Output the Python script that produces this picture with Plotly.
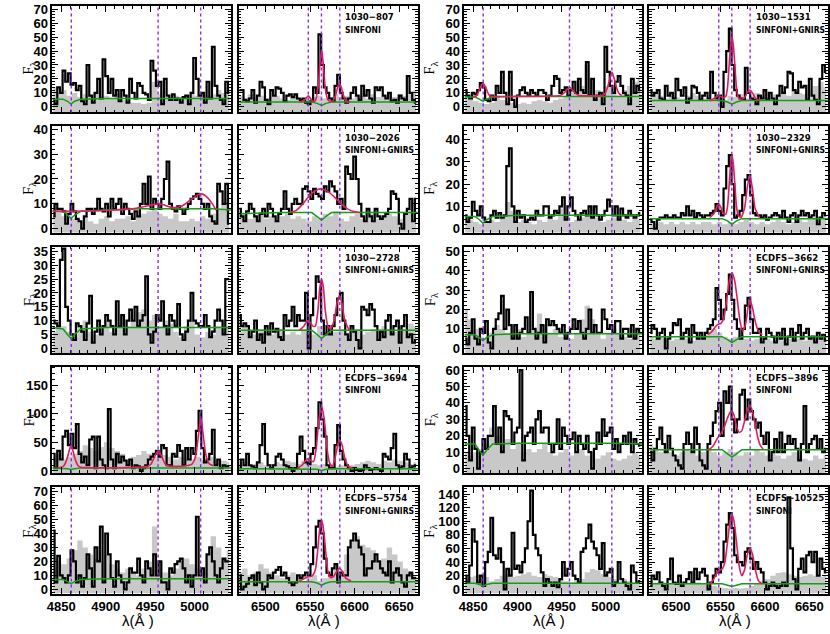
import plotly.graph_objects as go

# ---------------- wavelength grids / reference lines ----------------
BLUE_START, RED_START = 4841, 6471      # first bin centre (Angstrom)
SPEC_BIN, NOISE_BIN = 3, 6              # bin widths (Angstrom)
BLUE_RANGE = [4840, 5041]
RED_RANGE = [6470, 6671]
BLUE_LINES = [4861.3, 4958.9, 5006.8]   # Hbeta, [OIII]4959, [OIII]5007
RED_LINES = [6548.1, 6562.8, 6583.4]    # [NII]6548, Halpha, [NII]6583
BLUE_TICK0, RED_TICK0 = 4850, 6500
CONT_BLUE_WAVE = [4840, 4852, 4857, 4861, 4865, 4872, 4900, 4940, 4980, 5020, 5041]
CONT_RED_WAVE = [6470, 6520, 6552, 6558, 6563, 6568, 6574, 6620, 6671]

# ---------------- 1030-807 ----------------
F_807_B = [5,2,14,10,26,18,24,16,17,12,15,4,2,30,8,3,10,20,6,34,22,10,20,8,12,4,12,8,3,20,10,6,17,15,10,9,5,33,26,15,18,2,20,8,5,9,5,6,3,7,8,2,10,35,20,8,10,3,18,6,43,15,8,5,2,18,10]
N_807_B = [14,10,12,8,10,7,9,8,10,7,8,6,9,5,4,3,3,2,3,18,9,7,6,8,6,8,9,8,10,8,9,12,10,12]
C_807_B = [5.5,5.5,4,2,4,5.5,6,6,6,6,6]
F_807_R = [12,12,5,4,6,12,3,8,18,14,5,2,12,8,14,13,10,4,8,9,7,9,6,5,6,3,2,4,14,10,52,30,14,10,6,4,15,23,10,6,3,6,10,14,8,5,15,8,12,6,3,14,12,14,8,6,10,4,5,3,8,6,5,22,10,5,3]
N_807_R = [8,6,9,7,8,6,7,8,6,5,7,6,5,6,7,8,6,7,9,7,8,6,7,8,6,9,7,8,10,7,9,8,10,12]
C_807_R = [3.5,3.5,3.5,2.5,1,2.5,3.5,3.5,3.5]
FITW_807_R = [6538,6543,6546,6548,6550,6553,6556,6559,6561,6563,6565,6567,6570,6573,6576,6579,6581,6583,6585,6587,6590,6595]
FITF_807_R = [3.5,4.5,6.5,8,6.5,4,4.5,14,30,41,30,14,5,4,4.5,9,14,17,14,9,4.5,3.5]

# ---------------- 1030-1531 ----------------
F_1531_B = [12,8,6,10,9,12,17,14,5,4,8,5,15,10,25,10,2,25,5,0,8,12,14,10,8,12,10,8,12,12,10,5,8,15,22,20,10,12,14,8,12,18,10,20,12,10,32,8,20,5,8,10,2,43,25,15,10,18,22,15,10,8,2,20,10,15,12]
N_1531_B = [8,6,4,3,2,3,8,5,4,3,2,3,2,4,5,4,3,5,6,8,12,10,15,30,20,12,10,15,10,8,12,15,18,20]
C_1531_B = [7,7,5.5,4,5.5,7,7.5,7.5,7.5,7.5,7.5]
FITW_1531_B = [4850,4853,4855,4858,4861,4864,4867,4869,4872,4900,4940,4948,4952,4955,4959,4963,4966,4970,4980,4995,4999,5002,5004,5007,5010,5012,5015,5018]
FITF_1531_B = [7,7.5,9.5,14,17,14,9.5,7.8,7.5,7.5,7.8,8.2,9.5,11.5,14,11.5,9.5,8.2,8,8,9.5,14,19,25,19,14,9.5,8]
F_1531_R = [12,8,10,12,6,5,15,8,10,6,20,12,8,14,3,6,15,14,10,5,8,10,6,25,10,6,8,0,25,40,56,30,12,8,6,5,28,10,6,5,2,8,6,12,5,10,6,2,8,15,10,14,25,24,12,10,18,14,15,5,20,8,5,2,20,30,25]
N_1531_R = [8,10,8,6,8,7,6,8,10,8,6,5,4,6,5,8,7,9,6,8,10,8,7,9,8,10,8,12,10,9,12,15,18,14]
C_1531_R = [4.5,4.5,4.5,3.5,2,3.5,4.5,4.5,4.5]
FITW_1531_R = [6538,6543,6546,6548,6550,6553,6556,6558,6560,6561.5,6563,6564.5,6566,6568,6570,6573,6577,6580,6583,6586,6589,6594]
FITF_1531_R = [4.5,6,7.5,8,7.5,6.5,7.5,14,32,44,51,44,32,14,7,5.5,6.5,10,12,10,6.5,4.5]

# ---------------- 1030-2026 ----------------
F_2026_B = [5,10,8,8,7,2,6,10,7,4,3,0,5,8,8,6,8,12,8,7,10,5,12,8,10,12,6,10,8,6,4,7,5,10,18,10,21,8,12,10,8,12,20,27,10,8,7,9,8,6,8,10,12,13,14,12,10,8,10,5,3,2,18,15,10,18,2]
N_2026_B = [10,7,5,6,4,3,5,3,2,4,5,3,4,4,5,3,5,6,7,8,6,5,4,6,3,3,4,3,5,4,6,8,10,12]
C_2026_B = [7,7,5.5,4,5.5,7,7.5,8,8,8,7.5]
FITW_2026_B = [4840,4860,4900,4930,4945,4955,4960,4965,4975,4985,4995,5003,5008,5013,5020,5024]
FITF_2026_B = [7,7,7.3,8,9,9.8,10,9.6,8.5,9,11.5,13.5,14,13,10,7.5]
F_2026_R = [8,5,3,7,10,8,5,3,6,8,5,10,8,5,3,6,8,15,8,6,10,12,10,10,16,17,15,12,16,14,13,12,17,15,19,17,15,10,12,8,25,22,20,29,20,10,5,3,8,5,3,8,5,4,5,6,8,15,14,12,2,0,6,8,12,3,12]
N_2026_R = [7,6,4,5,6,4,5,3,5,6,4,5,4,3,5,4,6,5,7,4,3,5,6,4,5,6,4,5,6,5,4,6,8,10]
C_2026_R = [6,6.5,6.5,5,3.5,5,6.5,6.5,6.5]
FITW_2026_R = [6528,6535,6542,6550,6557,6563,6570,6578,6585,6592,6600,6606]
FITF_2026_R = [6.5,7.5,10,13.5,15.5,16,15,12.5,10,8,6.8,6.5]

# ---------------- 1030-2329 ----------------
F_2329_B = [6,3,5,12,8,6,10,5,3,3,6,8,5,7,5,6,28,36,10,3,8,5,6,3,4,5,4,8,6,6,10,10,5,6,8,7,10,14,4,10,14,8,6,4,7,8,6,10,5,10,6,4,6,8,13,10,6,10,4,9,6,5,8,6,5,6,7]
N_2329_B = [6,4,3,2,3,4,3,5,12,8,3,4,3,2,4,3,5,4,9,6,3,4,5,6,10,5,3,4,5,6,4,3,5,4]
C_2329_B = [5.5,5.5,4,2.5,4,5.5,6,6,6,6,6]
F_2329_R = [4,3,0,4,5,5,6,5,5,6,5,5,7,6,10,6,8,5,7,6,5,6,6,7,8,11,8,6,18,28,33,20,5,6,8,15,22,24,15,7,6,6,5,6,4,5,6,7,6,5,8,5,3,6,7,3,6,8,6,7,5,6,8,2,5,7,6]
N_2329_R = [3,2,3,2,3,2,3,2,3,2,3,3,2,3,2,3,2,3,4,3,2,3,2,3,4,3,2,3,4,3,4,5,4,5]
C_2329_R = [4.5,4.5,4.5,3.5,2,3.5,4.5,4.5,4.5]
FITW_2329_R = [6538,6543,6546,6548,6550,6553,6556,6558,6560,6561.5,6563,6564.5,6566,6568,6570,6573,6577,6580,6583,6586,6589,6594]
FITF_2329_R = [5,7,10,11,10,7,6.5,10,21,29,33,29,21,10,6,5,9,18,24,18,9,5]

# ---------------- 1030-2728 ----------------
F_2728_B = [10,9,8,32,36,15,10,5,3,9,8,6,3,9,19,2,6,10,5,8,12,10,8,5,17,8,12,5,10,14,10,15,8,10,12,26,5,2,6,12,10,17,8,5,12,10,8,16,5,3,6,10,20,10,9,8,8,12,8,4,6,10,14,10,5,25,25]
N_2728_B = [6,10,8,6,4,8,10,6,5,8,10,6,8,12,8,10,13,14,10,12,8,10,9,6,4,8,10,5,4,6,5,8,10,8]
C_2728_B = [7.5,7,5,3.5,5,7,7.5,7.5,7.5,7.5,7.5]
F_2728_R = [12,8,9,8,4,6,10,3,5,2,8,5,9,6,7,4,3,12,8,10,15,8,12,10,10,20,0,12,18,26,24,10,5,8,5,8,12,18,20,10,5,3,8,6,3,0,15,14,12,16,14,8,3,6,4,10,12,5,8,10,2,8,12,4,5,2,3]
N_2728_R = [6,8,6,5,7,6,5,6,7,5,6,5,7,6,5,8,6,5,6,7,5,6,7,5,6,7,6,8,7,6,8,7,9,8]
C_2728_R = [6.5,6.5,6.5,5,3.5,5,6.5,6.5,6.5]
FITW_2728_R = [6538,6543,6546,6548,6550,6553,6556,6559,6561,6563,6565,6567,6570,6573,6577,6580,6583,6586,6589,6594]
FITF_2728_R = [6.5,8,9.5,10,9.5,8,8,14,22,25,22,14,8,7,10,16,19,16,10,6.5]

# ---------------- ECDFS-3662 ----------------
F_3662_B = [5,2,8,15,5,2,10,8,14,3,0,10,15,18,27,10,20,12,5,12,5,8,10,16,8,29,10,5,8,12,3,15,12,14,12,10,8,12,5,8,10,15,10,14,8,5,10,20,8,12,8,8,20,15,10,12,8,14,14,5,10,10,6,12,5,10,8]
N_3662_B = [20,15,10,6,5,8,12,10,8,12,10,6,8,10,18,12,8,10,6,8,5,8,15,22,15,8,5,8,10,8,6,5,8,10]
C_3662_B = [7,7,5.5,4,5.5,7,7.5,7.5,7.5,7.5,7.5]
F_3662_R = [8,12,10,5,8,10,0,5,8,13,12,15,5,8,10,3,12,8,5,8,5,8,10,12,15,31,25,15,20,28,38,25,15,10,5,10,22,26,15,8,8,10,3,5,10,8,6,3,8,5,10,2,6,10,4,8,12,5,8,10,5,6,3,8,5,7,4]
N_3662_R = [6,5,6,5,4,5,6,5,4,5,6,8,10,8,6,5,6,7,5,4,5,6,5,4,5,4,5,6,5,4,5,6,5,6]
C_3662_R = [6,6,6,4.5,3,4.5,6,6,6]
FITW_3662_R = [6536,6541,6545,6548,6551,6554,6557,6560,6563,6566,6569,6572,6575,6578,6581,6583,6586,6589,6593,6597]
FITF_3662_R = [7,9,11.5,12.5,13,16,25,35,39,35,25,14,9,12,21,25,21,14,8.5,7]

# ---------------- ECDFS-3694 ----------------
F_3694_B = [30,5,35,20,60,70,45,65,40,82,30,15,25,10,55,60,5,60,20,10,5,108,20,5,30,15,25,18,10,20,5,10,8,0,5,10,20,25,30,35,25,45,40,10,10,30,25,45,35,10,40,20,40,30,70,105,40,15,20,30,72,10,20,5,10,8,8]
N_3694_B = [25,30,20,25,30,35,45,40,35,42,50,40,35,30,20,25,28,35,30,25,30,28,25,20,25,22,20,25,18,20,25,20,18,15]
C_3694_B = [5,5,4,2.5,4,5,5,5,5,5,5]
FITW_3694_B = [4846,4850,4853,4855,4857,4859,4861,4863,4865,4867,4869,4872,4876,4900,4940,4947,4951,4953,4955,4957,4959,4961,4963,4965,4967,4971,4975,4990,4997,5000,5002,5004,5006,5007,5008,5010,5012,5014,5017,5021]
FITF_3694_B = [6,6.5,9,15,24,36,45,36,24,15,9,6.5,6,5.5,7,8,12,18,25,31,35,31,25,18,12,8.5,8,9,12,20,34,58,84,92,84,58,34,20,12,9]
F_3694_R = [5,20,10,30,10,8,5,15,45,82,30,10,5,10,25,30,20,10,8,5,0,5,30,60,35,15,12,30,40,75,120,90,60,10,5,5,45,80,35,20,10,5,0,5,2,0,2,10,5,2,3,5,3,0,30,25,20,40,65,10,5,8,30,20,5,8,10]
N_3694_R = [12,15,10,12,15,10,12,15,12,18,15,12,18,15,12,10,12,10,8,10,12,10,12,15,18,15,12,18,15,20,18,15,12,15]
C_3694_R = [4,4,4,3,1,3,4,4,4]
FITW_3694_R = [6536,6541,6545,6548,6551,6554,6557,6560,6563,6566,6569,6572,6575,6578,6581,6583,6586,6589,6593,6597]
FITF_3694_R = [5,10,18,22,18,16,40,90,113,90,40,14,8,22,45,55,45,22,8,5]

# ---------------- ECDFS-3896 ----------------
F_3896_B = [38,20,5,25,12,0,10,18,12,20,20,38,15,25,10,35,32,30,15,22,25,60,5,20,22,25,15,30,35,22,25,25,15,10,15,30,12,25,20,15,18,22,10,20,15,12,20,10,0,12,22,15,30,20,22,25,12,18,10,15,20,15,22,10,18,15,14]
N_3896_B = [10,8,10,12,15,25,20,15,18,12,15,10,12,10,12,15,10,8,10,12,8,10,12,8,10,6,8,10,6,5,6,8,10,8]
C_3896_B = [15,15,11,8,11,15,15.5,15.5,15.5,15.5,15]
F_3896_R = [10,5,12,18,25,15,10,20,12,8,5,2,0,15,22,15,10,25,15,5,2,0,15,20,28,35,40,20,47,40,50,30,22,30,45,48,30,42,35,30,25,28,20,15,22,5,10,18,10,22,10,15,20,15,18,12,5,15,38,10,15,18,20,12,18,10,12]
N_3896_R = [15,12,10,12,10,8,10,12,10,8,10,12,10,8,10,12,10,8,10,8,12,10,8,10,8,6,8,10,8,6,5,8,6,8]
C_3896_R = [11.5,11.5,11.5,9,7,9,11.5,11.5,11.5]
FITW_3896_R = [6537,6542,6546,6550,6554,6558,6561,6563,6565,6568,6571,6574,6578,6581,6583,6585,6588,6592,6595,6598]
FITF_3896_R = [11.5,14,18,21,25,31,34.5,35,33,26,22,23,31,37,38,36.5,30,19,14,12]

# ---------------- ECDFS-5754 ----------------
F_5754_B = [42,5,24,10,8,5,10,28,20,5,10,2,8,25,15,2,30,20,45,5,40,25,8,2,20,10,5,0,5,15,12,12,22,10,5,20,15,10,25,10,20,5,5,0,15,12,18,20,22,15,5,10,2,10,52,10,15,5,25,30,20,10,5,15,22,20,20]
N_5754_B = [15,20,18,22,28,35,30,25,22,20,25,18,15,12,15,12,10,15,20,45,20,12,10,15,20,22,18,15,12,25,38,30,22,28]
C_5754_B = [7,7,5.5,4,5.5,7,7.5,7.5,7.5,7.5,7.5]
F_5754_R = [10,0,2,4,8,10,3,12,5,0,2,10,8,12,14,16,10,12,8,5,3,5,10,8,10,12,10,18,30,45,49,40,22,12,10,15,18,5,12,10,10,30,35,40,35,30,25,10,15,15,20,25,20,15,12,10,20,5,12,15,10,5,2,10,12,8,8]
N_5754_R = [12,15,10,12,18,15,12,10,8,10,12,8,6,8,10,6,8,10,15,12,25,35,38,32,30,28,20,22,30,25,20,15,12,10]
C_5754_R = [5.5,5.5,5.5,4.5,3,4.5,5.5,5.5,5.5]
FITW_5754_R = [6538,6543,6546,6548,6550,6553,6556,6558,6560,6561.5,6563,6564.5,6566,6568,6570,6573,6576,6580,6583,6586,6590,6596]
FITF_5754_R = [6,7.5,8.5,9,9,10,14,24,38,46,49,46,38,24,13,8.5,9,13,15,13,8,6]

# ---------------- ECDFS-10525 ----------------
F_10525_B = [20,10,35,88,70,10,20,5,40,55,105,50,45,60,40,0,30,20,83,30,35,25,40,60,100,145,80,60,50,25,5,15,10,5,10,3,15,40,20,30,40,20,15,10,55,60,75,95,70,60,50,30,68,20,25,30,5,10,40,15,10,5,0,35,25,10,12]
N_10525_B = [15,18,20,15,18,12,15,20,22,18,20,22,25,20,18,22,20,18,15,12,10,12,15,25,30,28,22,18,15,12,15,12,10,12]
C_10525_B = [9,9,7,5,7,9,9,9,9,9,9]
F_10525_R = [5,20,15,25,10,5,0,15,45,10,8,20,5,10,15,25,10,30,15,25,30,20,0,10,20,30,25,40,70,95,112,90,50,40,40,35,55,60,45,30,40,30,25,10,0,5,10,5,2,5,10,5,135,60,15,0,30,45,25,50,55,40,55,20,45,30,25]
N_10525_R = [12,10,12,10,8,10,12,10,8,10,8,6,5,3,2,1,2,1,2,5,8,12,15,20,24,25,22,20,18,20,22,20,18,20]
C_10525_R = [8,8,8,6,4,6,8,8,8]
FITW_10525_R = [6538,6542,6546,6549,6552,6555,6558,6561,6563,6565,6568,6571,6574,6577,6580,6583,6586,6589,6593,6597]
FITF_10525_R = [8,14,24,28,30,40,70,102,110,102,70,35,20,28,50,60,52,30,12,8]

# ---------------- panel table: rows x (left group, right group) ----------------
OBJECTS = [
    [dict(name="1030\u2212807", inst="SINFONI", yr=[-4, 72.3], dt=10,
          b=(F_807_B, N_807_B, C_807_B, None, None), r=(F_807_R, N_807_R, C_807_R, FITW_807_R, FITF_807_R)),
     dict(name="1030\u22121531", inst="SINFONI+GNIRS", yr=[-4, 72.3], dt=10,
          b=(F_1531_B, N_1531_B, C_1531_B, FITW_1531_B, FITF_1531_B), r=(F_1531_R, N_1531_R, C_1531_R, FITW_1531_R, FITF_1531_R))],
    [dict(name="1030\u22122026", inst="SINFONI+GNIRS", yr=[-1.6, 41.2], dt=10,
          b=(F_2026_B, N_2026_B, C_2026_B, FITW_2026_B, FITF_2026_B), r=(F_2026_R, N_2026_R, C_2026_R, FITW_2026_R, FITF_2026_R)),
     dict(name="1030\u22122329", inst="SINFONI+GNIRS", yr=[-1.8, 45.9], dt=10,
          b=(F_2329_B, N_2329_B, C_2329_B, None, None), r=(F_2329_R, N_2329_R, C_2329_R, FITW_2329_R, FITF_2329_R))],
    [dict(name="1030\u22122728", inst="SINFONI+GNIRS", yr=[-1.7, 36.8], dt=5,
          b=(F_2728_B, N_2728_B, C_2728_B, None, None), r=(F_2728_R, N_2728_R, C_2728_R, FITW_2728_R, FITF_2728_R)),
     dict(name="ECDFS\u22123662", inst="SINFONI+GNIRS", yr=[-2.4, 52.5], dt=10,
          b=(F_3662_B, N_3662_B, C_3662_B, None, None), r=(F_3662_R, N_3662_R, C_3662_R, FITW_3662_R, FITF_3662_R))],
    [dict(name="ECDFS\u22123694", inst="SINFONI", yr=[-4, 182], dt=50,
          b=(F_3694_B, N_3694_B, C_3694_B, FITW_3694_B, FITF_3694_B), r=(F_3694_R, N_3694_R, C_3694_R, FITW_3694_R, FITF_3694_R)),
     dict(name="ECDFS\u22123896", inst="SINFONI", yr=[-2.8, 62], dt=10,
          b=(F_3896_B, N_3896_B, C_3896_B, None, None), r=(F_3896_R, N_3896_R, C_3896_R, FITW_3896_R, FITF_3896_R))],
    [dict(name="ECDFS\u22125754", inst="SINFONI+GNIRS", yr=[-3, 73.3], dt=10,
          b=(F_5754_B, N_5754_B, C_5754_B, None, None), r=(F_5754_R, N_5754_R, C_5754_R, FITW_5754_R, FITF_5754_R)),
     dict(name="ECDFS\u221210525", inst="SINFONI", yr=[-6.2, 150.3], dt=20,
          b=(F_10525_B, N_10525_B, C_10525_B, None, None), r=(F_10525_R, N_10525_R, C_10525_R, FITW_10525_R, FITF_10525_R))],
]

# ---------------- layout geometry (pixels) ----------------
W, H = 830, 634
COL_X = [(46.7, 226.7), (234.3, 415.0), (461.7, 640.7), (648.0, 828.0)]
ROW_TOP0, ROW_PITCH, ROW_H = 2, 122, 108

GRAY = "#c8c8c8"
GREEN = "#11a011"
RED = "#e8185e"
PURPLE = "#8a2be2"
TICKFONT = dict(family="Liberation Sans", size=13, color="black", weight="bold")
LABELFONT = "DejaVu Sans Condensed, Liberation Sans"

fig = go.Figure()
layout = dict(width=W, height=H, autosize=False, margin=dict(l=0, r=0, t=0, b=0, pad=0),
              paper_bgcolor="white", plot_bgcolor="white", showlegend=False,
              hovermode=False)
shapes, annotations = [], []

for r in range(5):
    top = ROW_TOP0 + r * ROW_PITCH
    bot = top + ROW_H
    for c in range(4):
        n = r * 4 + c + 1
        obj = OBJECTS[r][c // 2]
        blue = (c % 2 == 0)
        spec, noise, cont, fitw, fitf = obj["b"] if blue else obj["r"]
        start = BLUE_START if blue else RED_START
        xs = "x" if n == 1 else f"x{n}"
        ys = "y" if n == 1 else f"y{n}"
        wave = [start + SPEC_BIN * i for i in range(len(spec))]
        nwave = [start + NOISE_BIN * i for i in range(len(noise))]
        ymin = obj["yr"][0]

        # noise (grey filled histogram from the bottom of the frame)
        fig.add_trace(go.Scatter(x=nwave, y=[ymin] * len(nwave), mode="lines",
                                 line=dict(width=0, shape="hvh", color=GRAY),
                                 xaxis=xs, yaxis=ys, hoverinfo="skip"))
        fig.add_trace(go.Scatter(x=nwave, y=noise, mode="lines", fill="tonexty",
                                 fillcolor=GRAY, line=dict(width=0, shape="hvh", color=GRAY),
                                 xaxis=xs, yaxis=ys, hoverinfo="skip"))
        # spectrum
        fig.add_trace(go.Scatter(x=wave, y=spec, mode="lines",
                                 line=dict(width=2.2, shape="hvh", color="black"),
                                 xaxis=xs, yaxis=ys, hoverinfo="skip"))
        # continuum
        fig.add_trace(go.Scatter(x=CONT_BLUE_WAVE if blue else CONT_RED_WAVE, y=cont,
                                 mode="lines", line=dict(width=1.5, color=GREEN),
                                 xaxis=xs, yaxis=ys, hoverinfo="skip"))
        # line fit
        if fitw is not None:
            fig.add_trace(go.Scatter(x=fitw, y=fitf, mode="lines",
                                     line=dict(width=1.6, color=RED, shape="spline", smoothing=0.55),
                                     xaxis=xs, yaxis=ys, hoverinfo="skip"))

        x0, x1 = COL_X[c]
        xa = dict(domain=[x0 / W, x1 / W], range=BLUE_RANGE if blue else RED_RANGE,
                  anchor=ys, tick0=BLUE_TICK0 if blue else RED_TICK0, dtick=50,
                  showticklabels=(r == 4), showline=True, linecolor="black", linewidth=1.6,
                  mirror="ticks", ticks="inside", ticklen=6, tickwidth=1.3, tickcolor="black",
                  showgrid=False, zeroline=False, tickfont=TICKFONT,
                  minor=dict(ticks="inside", ticklen=3, tickwidth=1, tickcolor="black", dtick=10))
        ya = dict(domain=[1 - bot / H, 1 - top / H], range=obj["yr"], anchor=xs,
                  dtick=obj["dt"], tick0=0, showticklabels=(c % 2 == 0),
                  showline=True, linecolor="black", linewidth=1.6, mirror="ticks",
                  ticks="inside", ticklen=6, tickwidth=1.3, tickcolor="black",
                  showgrid=False, zeroline=False, tickfont=TICKFONT,
                  minor=dict(ticks="inside", ticklen=3, tickwidth=1, tickcolor="black",
                             dtick=obj["dt"] / 5))
        layout["xaxis" if n == 1 else f"xaxis{n}"] = xa
        layout["yaxis" if n == 1 else f"yaxis{n}"] = ya

        for lw in (BLUE_LINES if blue else RED_LINES):
            shapes.append(dict(type="line", xref=xs, yref=f"{ys} domain", x0=lw, x1=lw,
                               y0=0, y1=1, line=dict(color=PURPLE, width=1.4, dash="dot")))

        if c % 2 == 0:
            annotations.append(dict(x=(x0 - 34) / W, y=1 - (top + bot) / 2 / H, xref="paper",
                                    yref="paper", text="F<sub>\u03bb</sub>", showarrow=False,
                                    textangle=-90, font=dict(family="Liberation Serif", size=15,
                                                             color="black")))
        else:
            annotations.append(dict(x=(x0 + 105) / W, y=1 - (top + 11) / H, xref="paper",
                                    yref="paper", text=obj["name"], showarrow=False,
                                    xanchor="left", yanchor="middle",
                                    font=dict(family=LABELFONT, size=9.5, color="black",
                                              weight="bold")))
            annotations.append(dict(x=(x0 + 105) / W, y=1 - (top + 24) / H, xref="paper",
                                    yref="paper", text=obj["inst"], showarrow=False,
                                    xanchor="left", yanchor="middle",
                                    font=dict(family=LABELFONT, size=8.5, color="black",
                                              weight="bold")))
        if r == 4:
            annotations.append(dict(x=((x0 + x1) / 2 - 4) / W, y=1 - 625 / H, xref="paper",
                                    yref="paper", text="\u03bb(\u00c5 )", showarrow=False,
                                    xanchor="center", yanchor="middle",
                                    font=dict(family="Liberation Sans", size=15, color="black")))

layout["shapes"] = shapes
layout["annotations"] = annotations
fig.update_layout(**layout)
fig.write_html("out.html", config={"displayModeBar": False},
               post_script="document.body.style.margin='0px';document.body.style.padding='0px';"
                           "document.body.style.overflow='hidden';")
